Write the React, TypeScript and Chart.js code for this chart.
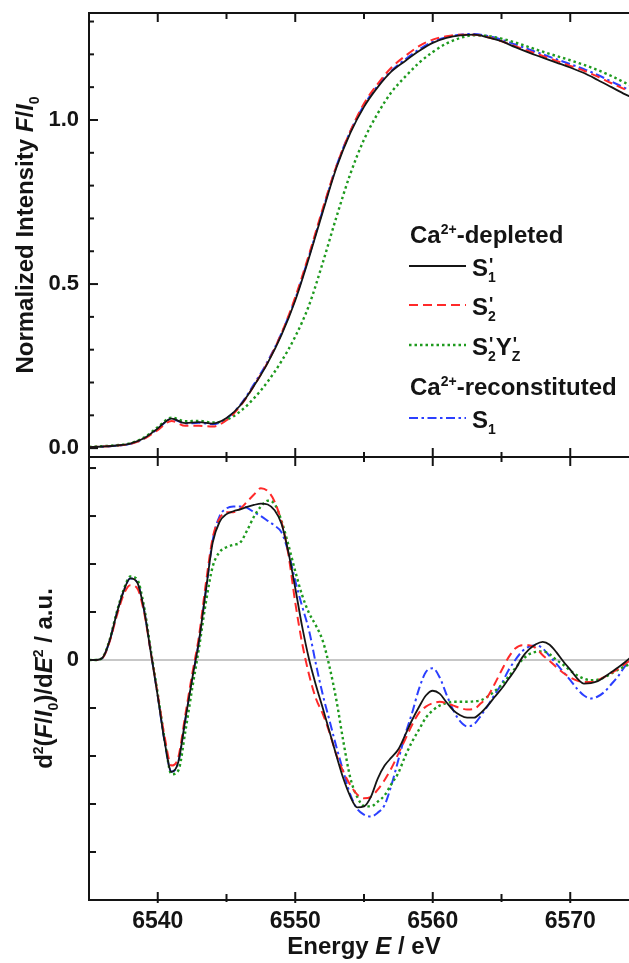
import React, { useEffect, useRef } from 'react';
import { Chart, registerables } from 'chart.js';

Chart.register(...registerables);

// ---------------- DATA ----------------
const ENERGY_TOP = [
  6535, 6536, 6537, 6538, 6539, 6540, 6541, 6542, 6543, 6544,
  6545, 6546, 6547, 6548, 6549, 6550, 6551, 6552, 6553, 6554,
  6555, 6556, 6557, 6558, 6559, 6560, 6561, 6562, 6563, 6564,
  6565, 6566, 6567, 6568, 6569, 6570, 6571, 6572, 6573, 6574, 6575,
];

// Normalized intensity F/I0
const TOP_S1P = [
  0.003, 0.005, 0.008, 0.014, 0.03, 0.06, 0.09, 0.076, 0.079, 0.075,
  0.092, 0.13, 0.19, 0.26, 0.345, 0.45, 0.58, 0.72, 0.855, 0.96,
  1.04, 1.1, 1.148, 1.18, 1.21, 1.235, 1.25, 1.258, 1.26, 1.252,
  1.24, 1.222, 1.205, 1.19, 1.175, 1.16, 1.143, 1.122, 1.1, 1.078, 1.06,
];
const TOP_S2P = [
  0.003, 0.005, 0.008, 0.013, 0.028, 0.055, 0.083, 0.068, 0.068, 0.066,
  0.085, 0.128, 0.19, 0.262, 0.35, 0.46, 0.59, 0.73, 0.86, 0.965,
  1.05, 1.11, 1.16, 1.195, 1.225, 1.245, 1.255, 1.26, 1.26, 1.252,
  1.24, 1.225, 1.21, 1.195, 1.18, 1.165, 1.15, 1.132, 1.112, 1.093, 1.073,
];
const TOP_S2PYZ = [
  0.004, 0.006, 0.009, 0.015, 0.032, 0.064, 0.093, 0.082, 0.083, 0.078,
  0.086, 0.112, 0.152, 0.203, 0.265, 0.34, 0.435, 0.565, 0.705, 0.835,
  0.94, 1.02, 1.085, 1.132, 1.174, 1.207, 1.233, 1.25, 1.258, 1.256,
  1.248, 1.236, 1.222, 1.208, 1.195, 1.182, 1.168, 1.152, 1.134, 1.113, 1.092,
];
const TOP_S1R = [
  0.002, 0.004, 0.007, 0.013, 0.029, 0.059, 0.089, 0.075, 0.077, 0.073,
  0.09, 0.132, 0.195, 0.265, 0.35, 0.455, 0.585, 0.725, 0.86, 0.965,
  1.045, 1.105, 1.15, 1.185, 1.215, 1.238, 1.252, 1.26, 1.262, 1.256,
  1.245, 1.23, 1.215, 1.2, 1.185, 1.17, 1.155, 1.137, 1.117, 1.097, 1.077,
];

const ENERGY_BOTTOM = [
  6535, 6535.5, 6536, 6536.5, 6537, 6537.5, 6538, 6538.5, 6539, 6539.5,
  6540, 6540.5, 6541, 6541.5, 6542, 6542.5, 6543, 6543.5, 6544, 6544.5,
  6545, 6545.5, 6546, 6546.5, 6547, 6547.5, 6548, 6548.5, 6549, 6549.5,
  6550, 6550.5, 6551, 6551.5, 6552, 6552.5, 6553, 6553.5, 6554, 6554.5,
  6555, 6555.5, 6556, 6556.5, 6557, 6557.5, 6558, 6558.5, 6559, 6559.5,
  6560, 6560.5, 6561, 6561.5, 6562, 6562.5, 6563, 6563.5, 6564, 6564.5,
  6565, 6565.5, 6566, 6566.5, 6567, 6567.5, 6568, 6568.5, 6569, 6569.5,
  6570, 6570.5, 6571, 6571.5, 6572, 6572.5, 6573, 6573.5, 6574, 6574.5, 6575,
];

// Second derivative d2(F/I0)/dE2 (arbitrary units)
const D2_S1P = [
  0, 0, 0.05, 0.4, 0.95, 1.42, 1.7, 1.62, 1.05, 0.15,
  -0.75, -1.7, -2.33, -2.12, -1.25, -0.4, 0.4, 1.45, 2.45, 2.88,
  3.04, 3.1, 3.14, 3.19, 3.23, 3.26, 3.24, 3.12, 2.84, 2.25,
  1.5, 0.7, 0.02, -0.52, -1.0, -1.5, -2.0, -2.47, -2.84, -3.07,
  -3.05, -2.85, -2.47, -2.2, -2.03, -1.86, -1.56, -1.25, -0.98, -0.74,
  -0.64, -0.7, -0.88, -1.05, -1.15, -1.2, -1.2, -1.1, -0.95, -0.77,
  -0.6, -0.4, -0.2, 0.05, 0.22, 0.33, 0.38, 0.32, 0.16, -0.03,
  -0.2, -0.38, -0.49, -0.48, -0.44, -0.35, -0.25, -0.15, -0.04, 0.08, 0.18,
];
const D2_S2P = [
  0, 0, 0.05, 0.38, 0.9, 1.35, 1.56, 1.5, 1.0, 0.15,
  -0.72, -1.6, -2.2, -2.02, -1.15, -0.3, 0.5, 1.6, 2.55, 2.95,
  3.08, 3.08, 3.15, 3.3, 3.45, 3.58, 3.52, 3.3, 2.88, 2.2,
  1.2, 0.35, -0.3, -0.8, -1.12, -1.52, -1.98, -2.33, -2.6, -2.8,
  -2.88, -2.85, -2.7, -2.5, -2.25, -1.95, -1.65, -1.35, -1.1, -0.97,
  -0.9, -0.87, -0.9, -0.95, -1.0, -1.03, -1.02, -0.9, -0.76, -0.5,
  -0.22, 0.05, 0.24, 0.31, 0.31, 0.25, 0.1, -0.02, -0.15, -0.27,
  -0.36, -0.43, -0.46, -0.46, -0.42, -0.35, -0.27, -0.18, -0.08, 0.02, 0.1,
];
const D2_S2PYZ = [
  0, 0, 0.06, 0.42, 0.98, 1.45, 1.74, 1.68, 1.12, 0.2,
  -0.7, -1.65, -2.38, -2.3, -1.5, -0.6, 0.25, 1.2, 1.95, 2.25,
  2.35, 2.4, 2.45, 2.7, 2.99, 3.2, 3.32, 3.25, 2.9, 2.4,
  1.85, 1.35, 0.98, 0.72, 0.4, -0.15, -0.85, -1.7, -2.45, -2.85,
  -3.04, -3.05, -2.95, -2.82, -2.58, -2.35, -2.0, -1.7, -1.45, -1.2,
  -1.05, -0.95, -0.9, -0.87, -0.87, -0.87, -0.86, -0.84, -0.76, -0.65,
  -0.52, -0.35, -0.17, 0.0, 0.12, 0.17, 0.18, 0.12, 0.0, -0.1,
  -0.22, -0.32, -0.39, -0.42, -0.41, -0.36, -0.28, -0.2, -0.13, -0.07, 0.0,
];
const D2_S1R = [
  0, 0, 0.05, 0.4, 0.95, 1.42, 1.7, 1.62, 1.05, 0.15,
  -0.75, -1.7, -2.33, -2.12, -1.25, -0.4, 0.4, 1.45, 2.5, 3.0,
  3.16, 3.2, 3.2, 3.17, 3.08, 3.0, 2.9, 2.8, 2.66, 2.25,
  1.65, 1.12, 0.62, -0.08, -0.72, -1.27, -1.82, -2.32, -2.8, -3.1,
  -3.22, -3.26, -3.18, -3.02, -2.6, -2.08, -1.55, -1.1, -0.6, -0.25,
  -0.17, -0.36, -0.72, -1.05, -1.28, -1.38, -1.34, -1.16, -0.95, -0.72,
  -0.5, -0.22, 0.0, 0.18, 0.28, 0.31, 0.24, 0.08, -0.08, -0.25,
  -0.42, -0.6, -0.74, -0.8, -0.76, -0.66, -0.5, -0.33, -0.12, 0.05, 0.18,
];

const TOP_Y_MAJOR = [0, 0.5, 1.0];
const TOP_Y_MINOR = [0.1, 0.2, 0.3, 0.4, 0.6, 0.7, 0.8, 0.9, 1.1, 1.2, 1.3];
const BOT_Y_TICKS = [-4, -3, -2, -1, 0, 1, 2, 3, 4];
const BOT_Y_LABELS = [0];
const X_MAJOR = [6540, 6550, 6560, 6570];
const X_MINOR = [6545, 6555, 6565];

// ---------------- TEXT ----------------
type Seg = { t: string; i?: boolean; sup?: boolean; sub?: boolean; stack?: boolean; prime?: boolean };

const TOP_TITLE: Seg[] = [
  { t: 'Normalized Intensity ' }, { t: 'F', i: true }, { t: '/' }, { t: 'I', i: true }, { t: '0', sub: true },
];
const BOTTOM_TITLE: Seg[] = [
  { t: 'd' }, { t: '2', sup: true }, { t: '(' }, { t: 'F', i: true }, { t: '/' }, { t: 'I', i: true },
  { t: '0', sub: true }, { t: ')/d' }, { t: 'E', i: true }, { t: '2', sup: true }, { t: ' / a.u.' },
];
const X_TITLE: Seg[] = [{ t: 'Energy ' }, { t: 'E', i: true }, { t: ' / eV' }];

const HEADER_DEPLETED: Seg[] = [{ t: 'Ca' }, { t: '2+', sup: true }, { t: '-depleted' }];
const HEADER_RECON: Seg[] = [{ t: 'Ca' }, { t: '2+', sup: true }, { t: '-reconstituted' }];
const SERIES_LABELS: Seg[][] = [
  [{ t: 'S' }, { t: '1', sub: true }, { t: "'", prime: true, stack: true }],
  [{ t: 'S' }, { t: '2', sub: true }, { t: "'", prime: true, stack: true }],
  [{ t: 'S' }, { t: '2', sub: true }, { t: "'", prime: true, stack: true }, { t: 'Y' }, { t: 'Z', sub: true }, { t: "'", prime: true, stack: true }],
  [{ t: 'S' }, { t: '1', sub: true }],
];
const SERIES_NAMES = ["S1' (Ca-depleted)", "S2' (Ca-depleted)", "S2'YZ' (Ca-depleted)", 'S1 (Ca-reconstituted)'];

// ---------------- STYLE ----------------
const FONT = '"Liberation Sans", Arial, Helvetica, sans-serif';
const INK = '#141414';
const STYLES = [
  { color: '#151515', dash: [] as number[], width: 1.8 },
  { color: '#ff2a2a', dash: [9, 5], width: 2 },
  { color: '#1e9a1e', dash: [2.5, 3], width: 2.4 },
  { color: '#2b3fff', dash: [9, 3.5, 2.5, 3.5], width: 2 },
];

function segFont(s: Seg, size: number) {
  const sz = s.prime ? Math.round(size * 0.75) : s.sup || s.sub ? Math.round(size * 0.6) : size;
  return `${s.i ? 'italic ' : ''}bold ${sz}px ${FONT}`;
}

function layoutRich(ctx: CanvasRenderingContext2D, segs: Seg[], size: number) {
  const out: { s: Seg; x: number; w: number }[] = [];
  let cx = 0, prevStart = 0, prevW = 0;
  for (const s of segs) {
    ctx.font = segFont(s, size);
    const w = ctx.measureText(s.t).width;
    if (s.stack) {
      out.push({ s, x: prevStart + (s.prime ? 1 : 0), w });
      prevW = Math.max(prevW, w);
      cx = prevStart + prevW;
    } else {
      out.push({ s, x: cx, w });
      prevStart = cx;
      prevW = w;
      cx += w;
    }
  }
  return { items: out, width: cx };
}

function drawRich(ctx: CanvasRenderingContext2D, segs: Seg[], x: number, y: number, size: number, align: 'left' | 'center') {
  const { items, width } = layoutRich(ctx, segs, size);
  const x0 = align === 'center' ? x - width / 2 : x;
  ctx.textAlign = 'left';
  ctx.textBaseline = 'alphabetic';
  for (const it of items) {
    ctx.font = segFont(it.s, size);
    const dy = it.s.prime ? -size * 0.2 : it.s.sup ? -size * 0.36 : it.s.sub ? size * 0.26 : 0;
    ctx.fillText(it.s.t, x0 + it.x, y + dy);
  }
}

function line(ctx: CanvasRenderingContext2D, x1: number, y1: number, x2: number, y2: number) {
  ctx.beginPath();
  ctx.moveTo(x1, y1);
  ctx.lineTo(x2, y2);
  ctx.stroke();
}

function makeDatasets(xs: number[], series: number[][]) {
  return series.map((vals, k) => ({
    label: SERIES_NAMES[k],
    data: xs.map((x, i) => ({ x, y: vals[i] })),
    borderColor: STYLES[k].color,
    borderDash: STYLES[k].dash,
    borderWidth: STYLES[k].width,
    pointRadius: 0,
    fill: false,
    cubicInterpolationMode: 'monotone' as const,
    borderCapStyle: 'butt' as const,
  }));
}

const noPad = (s: any) => {
  s.paddingTop = 0;
  s.paddingBottom = 0;
  s.paddingLeft = 0;
  s.paddingRight = 0;
};

const topPlugin = {
  id: 'topDecor',
  afterDraw(chart: any) {
    const { ctx, chartArea: a, scales } = chart;
    const xs = scales.x, ys = scales.y;
    ctx.save();
    ctx.strokeStyle = INK;
    ctx.lineWidth = 2;
    line(ctx, a.left, a.bottom + 1, a.left, a.top - 1);
    line(ctx, a.left - 1, a.top, a.right + 20, a.top);
    for (const v of TOP_Y_MAJOR) { const p = ys.getPixelForValue(v); line(ctx, a.left, p, a.left + 9, p); }
    for (const v of TOP_Y_MINOR) { const p = ys.getPixelForValue(v); line(ctx, a.left, p, a.left + 5, p); }
    for (const v of X_MAJOR) { const p = xs.getPixelForValue(v); line(ctx, p, a.top, p, a.top + 9); }
    for (const v of X_MINOR) { const p = xs.getPixelForValue(v); line(ctx, p, a.top, p, a.top + 6); }

    // axis title
    ctx.fillStyle = INK;
    ctx.save();
    ctx.translate(33, (a.top + a.bottom) / 2);
    ctx.rotate(-Math.PI / 2);
    drawRich(ctx, TOP_TITLE, 0, 0, 24, 'center');
    ctx.restore();

    // legend
    const lx1 = 409, lx2 = 466, tx = 472;
    drawRich(ctx, HEADER_DEPLETED, 410, 243, 24, 'left');
    const rows = [
      { k: 0, y: 266 },
      { k: 1, y: 305 },
      { k: 2, y: 345 },
    ];
    const drawRow = (k: number, y: number) => {
      ctx.save();
      ctx.strokeStyle = STYLES[k].color;
      ctx.lineWidth = STYLES[k].width;
      ctx.setLineDash(STYLES[k].dash);
      line(ctx, lx1, y, lx2, y);
      ctx.restore();
      drawRich(ctx, SERIES_LABELS[k], tx, y + 10, 24, 'left');
    };
    rows.forEach((r) => drawRow(r.k, r.y));
    drawRich(ctx, HEADER_RECON, 410, 395, 24, 'left');
    drawRow(3, 418);
    ctx.restore();
  },
};

const bottomPlugin = {
  id: 'bottomDecor',
  beforeDatasetsDraw(chart: any) {
    const { ctx, chartArea: a, scales } = chart;
    const p = scales.y.getPixelForValue(0);
    ctx.save();
    ctx.strokeStyle = '#b4b4b4';
    ctx.lineWidth = 1.5;
    line(ctx, a.left, p, a.right + 20, p);
    ctx.restore();
  },
  afterDraw(chart: any) {
    const { ctx, chartArea: a, scales } = chart;
    const xs = scales.x, ys = scales.y;
    ctx.save();
    ctx.strokeStyle = INK;
    ctx.lineWidth = 2;
    line(ctx, a.left - 1, a.top, a.right + 20, a.top);
    line(ctx, a.left - 1, a.bottom, a.right + 20, a.bottom);
    line(ctx, a.left, a.top - 1, a.left, a.bottom + 1);
    for (const v of BOT_Y_TICKS) { const p = ys.getPixelForValue(v); line(ctx, a.left, p, a.left + 7, p); }
    for (const v of X_MAJOR) {
      const p = xs.getPixelForValue(v);
      line(ctx, p, a.top - 9, p, a.top + 9);
      line(ctx, p, a.bottom - 8, p, a.bottom + 3);
    }
    for (const v of X_MINOR) {
      const p = xs.getPixelForValue(v);
      line(ctx, p, a.top - 5, p, a.top + 5);
      line(ctx, p, a.bottom - 6, p, a.bottom + 2);
    }
    ctx.fillStyle = INK;
    ctx.save();
    ctx.translate(52, (a.top + a.bottom) / 2);
    ctx.rotate(-Math.PI / 2);
    drawRich(ctx, BOTTOM_TITLE, 0, 0, 24, 'center');
    ctx.restore();
    drawRich(ctx, X_TITLE, (a.left + a.right) / 2, a.bottom + 54, 24, 'center');
    ctx.restore();
  },
};

export default function App() {
  const topRef = useRef<HTMLCanvasElement>(null);
  const botRef = useRef<HTMLCanvasElement>(null);

  useEffect(() => {
    const topChart = new Chart(topRef.current as HTMLCanvasElement, {
      type: 'line',
      data: { datasets: makeDatasets(ENERGY_TOP, [TOP_S1P, TOP_S2P, TOP_S2PYZ, TOP_S1R]) as any },
      options: {
        animation: false,
        responsive: false,
        devicePixelRatio: 1,
        layout: { padding: { top: 13, left: 0, right: 6, bottom: 1 } },
        plugins: { legend: { display: false }, tooltip: { enabled: false } },
        scales: {
          x: { type: 'linear', min: 6535, max: 6575, display: false },
          y: {
            type: 'linear',
            min: -0.027,
            max: 1.326,
            afterFit: (s: any) => { s.width = 89; noPad(s); },
            afterBuildTicks: (s: any) => { s.ticks = TOP_Y_MAJOR.map((v) => ({ value: v })); },
            grid: { display: false, drawTicks: false },
            border: { display: false },
            ticks: {
              padding: 10,
              color: INK,
              font: { family: FONT, size: 22, weight: 'bold' },
              callback: (v: any) => Number(v).toFixed(1),
            },
          },
        },
      },
      plugins: [topPlugin],
    });

    const botChart = new Chart(botRef.current as HTMLCanvasElement, {
      type: 'line',
      data: { datasets: makeDatasets(ENERGY_BOTTOM, [D2_S1P, D2_S2P, D2_S2PYZ, D2_S1R]) as any },
      options: {
        animation: false,
        responsive: false,
        devicePixelRatio: 1,
        layout: { padding: { top: 17, left: 0, right: 6, bottom: 0 } },
        plugins: { legend: { display: false }, tooltip: { enabled: false } },
        scales: {
          x: {
            type: 'linear',
            min: 6535,
            max: 6575,
            afterFit: (s: any) => { s.height = 63; noPad(s); },
            afterBuildTicks: (s: any) => { s.ticks = X_MAJOR.map((v) => ({ value: v })); },
            grid: { display: false, drawTicks: false },
            border: { display: false },
            ticks: {
              padding: 8,
              maxRotation: 0,
              color: INK,
              font: { family: FONT, size: 23, weight: 'bold' },
              callback: (v: any) => String(v),
            },
          },
          y: {
            type: 'linear',
            min: -5,
            max: 4.23,
            afterFit: (s: any) => { s.width = 89; noPad(s); },
            afterBuildTicks: (s: any) => { s.ticks = BOT_Y_LABELS.map((v) => ({ value: v })); },
            grid: { display: false, drawTicks: false },
            border: { display: false },
            ticks: {
              padding: 10,
              color: INK,
              font: { family: FONT, size: 22, weight: 'bold' },
              callback: (v: any) => String(v),
            },
          },
        },
      },
      plugins: [bottomPlugin],
    });

    return () => {
      topChart.destroy();
      botChart.destroy();
    };
  }, []);

  return (
    <div style={{ position: 'fixed', left: 0, top: 0, width: 629, height: 963, overflow: 'hidden', background: '#ffffff' }}>
      <div style={{ position: 'absolute', left: 0, top: 0 }}>
        <canvas ref={topRef} width={645} height={458} style={{ display: 'block' }} />
      </div>
      <div style={{ position: 'absolute', left: 0, top: 440 }}>
        <canvas ref={botRef} width={645} height={523} style={{ display: 'block' }} />
      </div>
    </div>
  );
}
